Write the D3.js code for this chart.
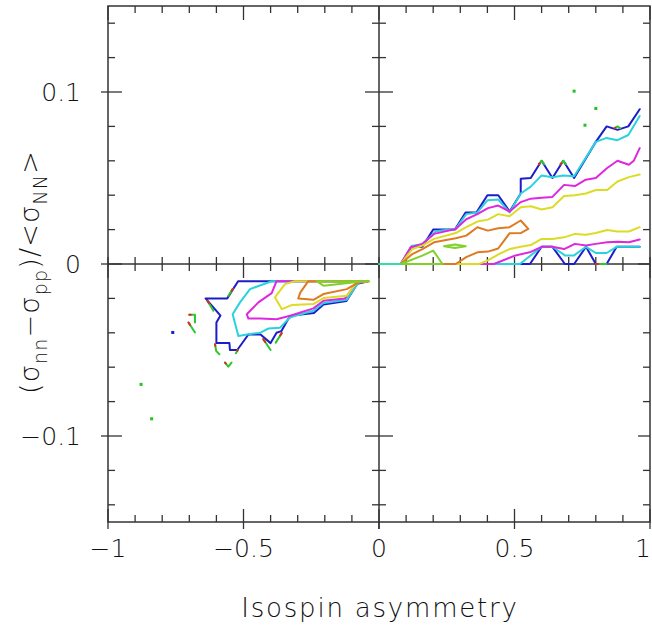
<!DOCTYPE html>
<html><head><meta charset="utf-8">
<script src="https://cdn.jsdelivr.net/npm/d3@7"></script>
<style>html,body{margin:0;padding:0;background:#fff;} svg{display:block}</style>
</head><body>
<svg id="c" width="652" height="628"></svg>
<script>
// ---- axes / ticks ----
const xMajorTicks = [-1, -0.5, 0, 0.5, 1];
const xTickLabels = ["−1", "−0.5", "0", "0.5", "1"];
const xMinorTicks = [-0.9,-0.8,-0.7,-0.6,-0.4,-0.3,-0.2,-0.1,0.1,0.2,0.3,0.4,0.6,0.7,0.8,0.9];
const yMajorTicks = [-0.1, 0, 0.1];
const yTickLabels = ["−0.1", "0", "0.1"];
const yMinorTicks = [-0.14,-0.12,-0.08,-0.06,-0.04,-0.02,0.02,0.04,0.06,0.08,0.12,0.14];
const xTitle = "Isospin asymmetry";

// ---- contour levels (outer -> inner) ----
const levelNames = ["blue", "cyan", "magenta", "yellow", "orange", "lime"];
const levelColors = ["#1c1cc8", "#2ad2de", "#de28de", "#dcdc26", "#de7a22", "#80d22a"];

// ---- right panel (x>0, y>0) contours ----
const rightBlue = [[0.962,0.01],[0.877,0.01],[0.84,0],[0.80,0],[0.764,0.01],[0.72,0],[0.686,0],[0.64,0.01],[0.60,0.01],[0.557,0],[0.08,0],
  [0.12,0.01],[0.16,0.01],[0.20,0.02],[0.28,0.02],[0.32,0.03],[0.36,0.03],[0.40,0.04],[0.44,0.04],[0.482,0.0305],[0.523,0.041],[0.523,0.0496],
  [0.56,0.05],[0.60,0.06],[0.64,0.05],[0.68,0.06],[0.72,0.05],[0.80,0.071],[0.84,0.08],[0.88,0.078],[0.92,0.08],[0.962,0.09]];
const rightCyan = [[0.962,0.01],[0.877,0.01],[0.84,0.0064],[0.80,0.0064],[0.764,0.01],[0.72,0.005],[0.686,0.005],[0.64,0.01],[0.60,0.01],[0.52,0],[0.08,0],
  [0.12,0.0105],[0.16,0.0115],[0.21,0.019],[0.283,0.0205],[0.322,0.029],[0.363,0.03],[0.40,0.037],[0.44,0.0375],[0.482,0.03],[0.523,0.041],
  [0.56,0.045],[0.60,0.0515],[0.64,0.0505],[0.68,0.0515],[0.72,0.051],[0.80,0.071],[0.84,0.0733],[0.88,0.072],[0.92,0.075],[0.962,0.086]];
const rightMagenta = [[0.962,0.0142],[0.922,0.0126],[0.88,0.013],[0.842,0.0126],[0.80,0.0117],[0.763,0.0107],[0.723,0.0117],[0.683,0.0087],[0.64,0.01],[0.60,0.01],[0.56,0.007],[0.504,0.005],[0.424,0],[0.08,0],
  [0.117,0.0097],[0.16,0.0117],[0.203,0.0175],[0.283,0.0204],[0.322,0.026],[0.363,0.029],[0.402,0.0325],[0.44,0.034],[0.482,0.0305],[0.523,0.036],
  [0.56,0.038],[0.60,0.0385],[0.64,0.039],[0.683,0.046],[0.723,0.0453],[0.763,0.049],[0.80,0.050],[0.842,0.0558],[0.88,0.060],[0.922,0.0577],[0.94,0.06],[0.962,0.0674]];
const rightYellow = [[0.962,0.0214],[0.922,0.0189],[0.88,0.0189],[0.842,0.0198],[0.80,0.018],[0.763,0.017],[0.723,0.0175],[0.683,0.0155],[0.64,0.0146],[0.60,0.0146],[0.56,0.011],[0.523,0.010],[0.482,0.0087],[0.443,0.0058],[0.40,0.002],[0.369,0],[0.08,0],
  [0.123,0.0087],[0.16,0.0107],[0.203,0.0146],[0.283,0.018],[0.322,0.0214],[0.363,0.0247],[0.402,0.0258],[0.44,0.029],[0.482,0.0278],[0.523,0.033],
  [0.56,0.0336],[0.60,0.0317],[0.64,0.033],[0.683,0.0395],[0.723,0.040],[0.763,0.041],[0.80,0.043],[0.842,0.043],[0.88,0.048],[0.922,0.0505],[0.962,0.052]];
const rightOrange = [[0.283,0],[0.322,0.004],[0.363,0.0068],[0.402,0.0072],[0.44,0.009],[0.482,0.0179],[0.523,0.018],[0.551,0.0204],[0.523,0.0253],
  [0.482,0.0214],[0.44,0.0208],[0.402,0.0194],[0.363,0.0214],[0.322,0.0165],[0.283,0.015],[0.203,0.0126],[0.16,0.0087],[0.123,0.0058],[0.08,0],[0.283,0]];
const rightLime = [[0.08,0],[0.16,0.0049],[0.20,0.0078],[0.234,0],[0.08,0]];
const rightLimeBlob = [[0.24,0.0103],[0.28,0.0113],[0.32,0.0103],[0.28,0.0093],[0.24,0.0103]];
const rightBase = [[0,0],[0.08,0]];

// ---- left panel (x<0, y<0) contours ----
const leftBlue = [[-0.04,-0.01],[-0.52,-0.01],[-0.56,-0.02],[-0.64,-0.02],[-0.585,-0.03],[-0.60,-0.034],[-0.60,-0.046],[-0.552,-0.046],[-0.55,-0.05],
  [-0.523,-0.05],[-0.482,-0.041],[-0.437,-0.041],[-0.40,-0.046],[-0.378,-0.04],[-0.36,-0.039],[-0.335,-0.032],[-0.32,-0.030],[-0.24,-0.0285],
  [-0.205,-0.0235],[-0.12,-0.0215],[-0.08,-0.0115],[-0.04,-0.01]];
const leftCyan = [[-0.04,-0.01],[-0.396,-0.01],[-0.476,-0.0146],[-0.513,-0.0223],[-0.54,-0.0292],[-0.519,-0.0418],[-0.482,-0.0408],[-0.439,-0.040],
  [-0.408,-0.0375],[-0.365,-0.037],[-0.328,-0.031],[-0.242,-0.0272],[-0.205,-0.0227],[-0.119,-0.0208],[-0.076,-0.0107],[-0.04,-0.01]];
const leftMagenta = [[-0.04,-0.01],[-0.378,-0.01],[-0.396,-0.0169],[-0.445,-0.0223],[-0.488,-0.0292],[-0.482,-0.0317],[-0.439,-0.0317],[-0.378,-0.0321],
  [-0.328,-0.0301],[-0.242,-0.0258],[-0.205,-0.0214],[-0.125,-0.020],[-0.082,-0.0107],[-0.04,-0.01]];
const leftYellow = [[-0.04,-0.01],[-0.31,-0.01],[-0.347,-0.0117],[-0.384,-0.0194],[-0.359,-0.0262],[-0.322,-0.0239],[-0.242,-0.0233],[-0.205,-0.0198],
  [-0.119,-0.0185],[-0.082,-0.0107],[-0.04,-0.01]];
const leftOrange = [[-0.04,-0.01],[-0.261,-0.01],[-0.29,-0.0165],[-0.298,-0.02],[-0.242,-0.0208],[-0.205,-0.0175],[-0.119,-0.0146],[-0.076,-0.0107],[-0.04,-0.01]];
const leftLime = [[-0.036,-0.01],[-0.23,-0.01],[-0.205,-0.0126],[-0.113,-0.0111],[-0.076,-0.0103],[-0.036,-0.01]];

// ---- lowest level fragments (green with red tip) ----
const lowFragments = [
  [[-0.703,-0.034],[-0.679,-0.0398]],
  [[-0.70,-0.0295],[-0.679,-0.0295],[-0.679,-0.034]],
  [[-0.568,-0.0573],[-0.556,-0.0597],[-0.544,-0.0573]],
  [[-0.605,-0.0466],[-0.601,-0.0505],[-0.589,-0.0525]],
  [[-0.521,-0.050],[-0.528,-0.0519]],
  [[-0.427,-0.0437],[-0.40,-0.050]],
  [[-0.359,-0.0402],[-0.381,-0.0457]],
  [[-0.633,-0.0214],[-0.611,-0.0272]],
  [[-0.54,-0.0146],[-0.556,-0.0185]],
  [[0.59,0.058],[0.60,0.06],[0.61,0.058]],
  [[0.67,0.058],[0.68,0.06],[0.69,0.058]],
  [[0.87,0.079],[0.88,0.08],[0.89,0.079]],
  [[0.80,0],[0.84,0]]
];
const greenDots = [[-0.878,-0.070],[-0.839,-0.090],[0.72,0.1005],[0.80,0.0904],[0.76,0.0807]];
const blueDots = [[-0.761,-0.0398]];

// ---- drawing ----
const x = d3.scaleLinear().domain([-1, 1]).range([108, 650]);
const y = d3.scaleLinear().domain([-0.15, 0.15]).range([522, 6]);
const svg = d3.select("#c");
const axisColor = "#333";
const textColor = "#111";
const font = "'DejaVu Sans', sans-serif";

const line = d3.line().x(d => x(d[0])).y(d => y(d[1]));

// frame
const g = svg.append("g");
g.append("rect").attr("x", x(-1)).attr("y", y(0.15)).attr("width", x(1)-x(-1)).attr("height", y(-0.15)-y(0.15))
  .attr("fill", "none").attr("stroke", axisColor).attr("stroke-width", 1.5);
// center lines
g.append("line").attr("x1", x(-1)).attr("x2", x(1)).attr("y1", y(0)).attr("y2", y(0)).attr("stroke", axisColor).attr("stroke-width", 1.5);
g.append("line").attr("x1", x(0)).attr("x2", x(0)).attr("y1", y(0.15)).attr("y2", y(-0.15)+7).attr("stroke", axisColor).attr("stroke-width", 1.5);

function tick(x1, y1, x2, y2) {
  g.append("line").attr("x1", x1).attr("y1", y1).attr("x2", x2).attr("y2", y2)
    .attr("stroke", axisColor).attr("stroke-width", 1.3);
}
// x ticks
xMinorTicks.forEach(v => {
  const px = x(v);
  tick(px, y(-0.15), px, y(-0.15) - 7);
  tick(px, y(0.15), px, y(0.15) + 7);
  tick(px, y(0) - 7, px, y(0) + 7);
});
xMajorTicks.forEach(v => {
  const px = x(v);
  tick(px, y(-0.15) + 7, px, y(-0.15) - 13);
  tick(px, y(0.15), px, y(0.15) + 14);
  tick(px, y(0) - 7, px, y(0) + 14);
});
// y ticks
yMinorTicks.forEach(v => {
  const py = y(v);
  tick(x(-1), py, x(-1) + 7, py);
  tick(x(1), py, x(1) - 7, py);
  tick(x(0) - 7, py, x(0) + 7, py);
});
yMajorTicks.forEach(v => {
  const py = y(v);
  tick(x(-1) - 7, py, x(-1) + 14, py);
  tick(x(1), py, x(1) - 12, py);
  tick(x(0) - 14, py, x(0) + 14, py);
});

// tick labels
xMajorTicks.forEach((v, i) => {
  const last = i === xMajorTicks.length - 1;
  svg.append("text").attr("x", last ? 651 : x(v)).attr("y", 557).attr("text-anchor", last ? "end" : "middle")
    .attr("font-family", font).attr("font-weight", 200).attr("font-size", 25).attr("fill", textColor)
    .text(xTickLabels[i]);
});
yMajorTicks.forEach((v, i) => {
  svg.append("text").attr("x", 81).attr("y", y(v) + 9).attr("text-anchor", "end")
    .attr("font-family", font).attr("font-weight", 200).attr("font-size", 25).attr("fill", textColor)
    .text(yTickLabels[i]);
});
// x title
svg.append("text").attr("x", 380).attr("y", 617).attr("text-anchor", "middle")
  .attr("font-family", font).attr("font-weight", 200).attr("font-size", 26).attr("fill", textColor)
  .attr("letter-spacing", 1.8).text(xTitle);
// y title
const yt = svg.append("text").attr("transform", "translate(39,272) rotate(-90)").attr("text-anchor", "middle")
  .attr("font-family", font).attr("font-weight", 200).attr("font-size", 27).attr("fill", textColor)
  .attr("letter-spacing", 1.2);
const yParts = [["(σ", 0], ["nn", 1], ["−σ", 0], ["pp", 1], [")/<σ", 0], ["NN", 1], [">", 0]];
let prevSub = 0;
yParts.forEach(([t, sub]) => {
  const ts = yt.append("tspan").text(t);
  if (sub) ts.attr("font-size", 19).attr("dy", 8);
  else if (prevSub) ts.attr("dy", -8);
  prevSub = sub;
});

// contours
const plot = svg.append("g").attr("fill", "none").attr("stroke-width", 2).attr("stroke-linejoin", "round").attr("stroke-linecap", "round");
const rightSets = [rightBlue, rightCyan, rightMagenta, rightYellow, rightOrange, rightLime];
const leftSets = [leftBlue, leftCyan, leftMagenta, leftYellow, leftOrange, leftLime];
levelNames.forEach((name, i) => {
  plot.append("path").attr("class", "c-" + name).attr("d", line(leftSets[i])).attr("stroke", levelColors[i]);
  plot.append("path").attr("class", "c-" + name).attr("d", line(rightSets[i])).attr("stroke", levelColors[i]);
});
plot.append("path").attr("d", line(rightLimeBlob)).attr("stroke", levelColors[5]);

// lowest-level fragments
lowFragments.forEach(seg => {
  plot.append("path").attr("d", line(seg)).attr("stroke", "#2ec82e");
  const a = seg[0], b = seg[1];
  const ax = x(a[0]), ay = y(a[1]), bx = x(b[0]), by = y(b[1]);
  plot.append("line").attr("x1", ax).attr("y1", ay).attr("x2", ax + (bx-ax)*0.25).attr("y2", ay + (by-ay)*0.25)
    .attr("stroke", "#e02a20").attr("stroke-width", 2);
});
plot.append("path").attr("d", line(rightBase)).attr("stroke", "#36dca6");

svg.append("g").selectAll("rect.gd").data(greenDots).join("rect")
  .attr("x", d => x(d[0]) - 1.5).attr("y", d => y(d[1]) - 1.5).attr("width", 3).attr("height", 3).attr("fill", "#22c422");
svg.append("g").selectAll("rect.bd").data(blueDots).join("rect")
  .attr("x", d => x(d[0]) - 1.5).attr("y", d => y(d[1]) - 1.5).attr("width", 3).attr("height", 3).attr("fill", "#1c1cc8");
</script>
</body></html>
